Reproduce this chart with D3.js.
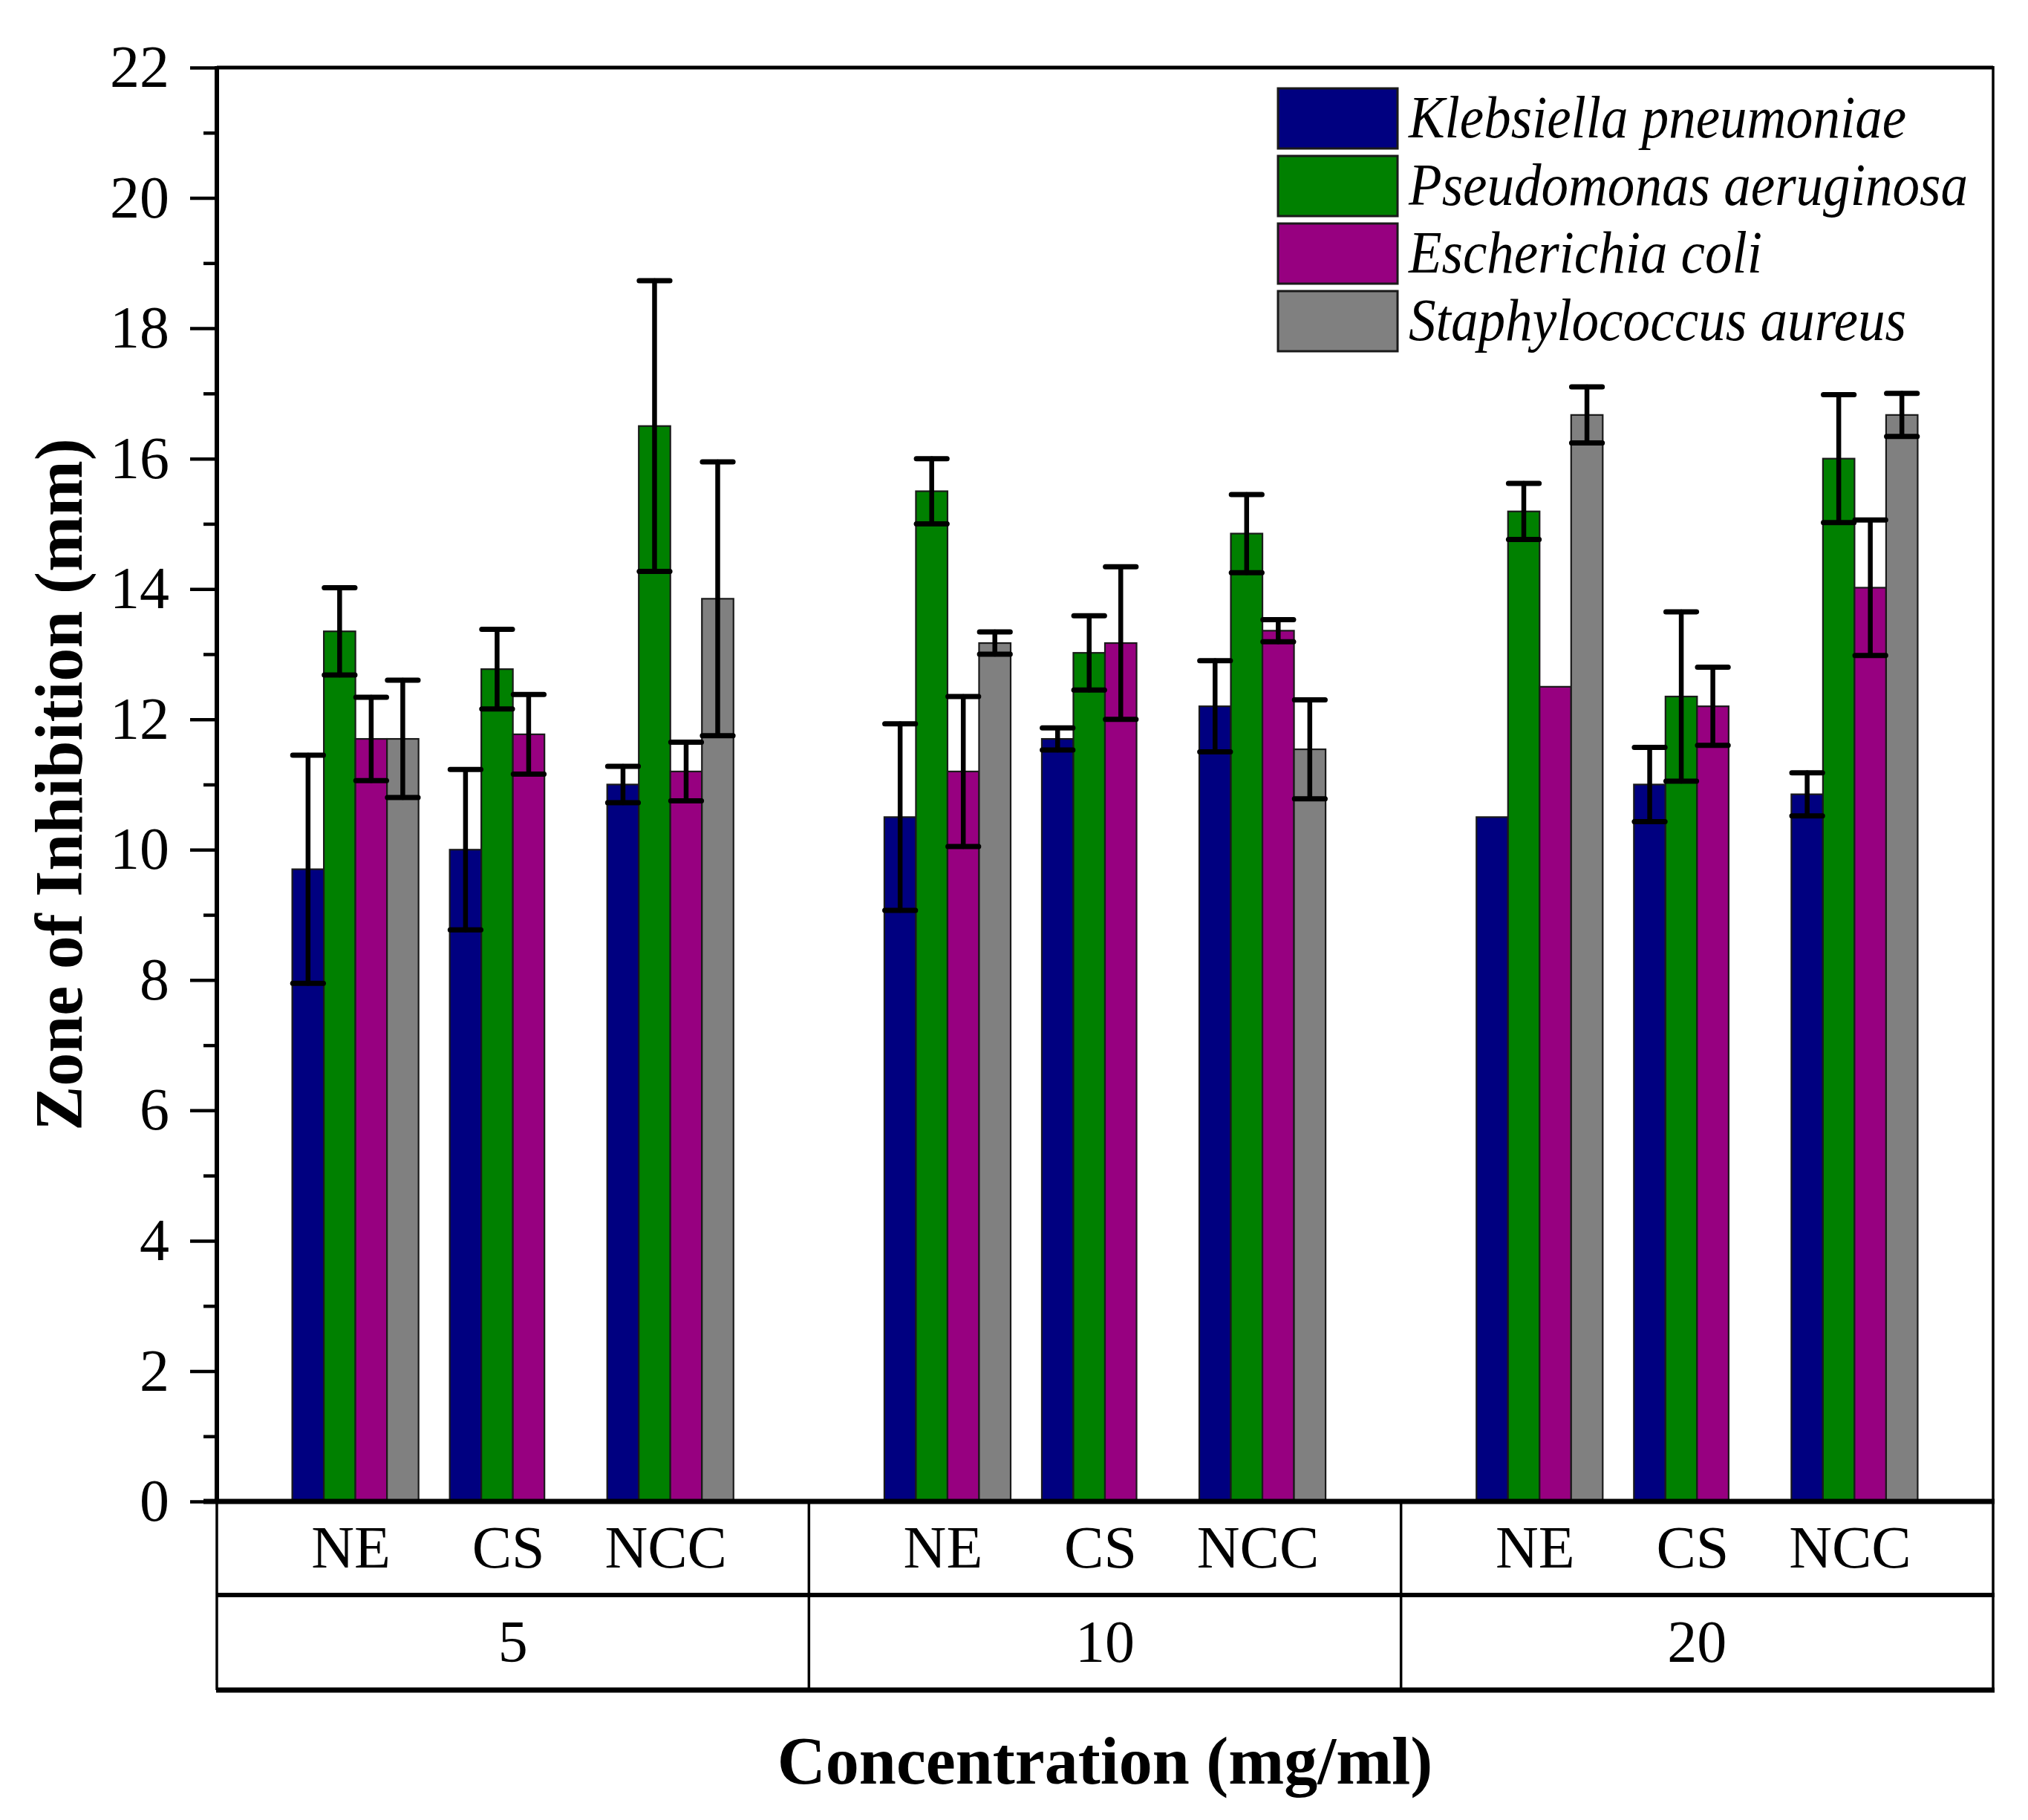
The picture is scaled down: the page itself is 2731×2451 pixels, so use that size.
<!DOCTYPE html>
<html>
<head>
<meta charset="utf-8">
<script src="https://cdn.jsdelivr.net/npm/d3@7"></script>
<style>
  body { margin: 0; background: #fff; }
  text { font-family: "Liberation Serif", "Times New Roman", serif; fill: #000; }
</style>
</head>
<body>
<div id="chart"></div>
<script>
// Categories
const concentrations = ["5", "10", "20"];
const treatments = ["NE", "CS", "NCC"];
const species = ["Klebsiella pneumoniae", "Pseudomonas aeruginosa", "Escherichia coli", "Staphylococcus aureus"];
const colors = ["#000080", "#008000", "#970080", "#808080"];

// Values, in order 5-NE, 5-CS, 5-NCC, 10-NE, 10-CS, 10-NCC, 20-NE, 20-CS, 20-NCC
const kpMean = [9.7, 10.0, 11.0, 10.5, 11.7, 12.2, 10.5, 11.0, 10.85];
const kpErr  = [1.75, 1.23, 0.28, 1.43, 0.17, 0.7, 0, 0.57, 0.33];
const paMean = [13.35, 12.77, 16.5, 15.5, 13.02, 14.85, 15.19, 12.35, 16.0];
const paErr  = [0.67, 0.61, 2.23, 0.5, 0.57, 0.6, 0.43, 1.3, 0.98];
const ecMean = [11.7, 11.77, 11.2, 11.2, 13.17, 13.36, 12.5, 12.2, 14.02];
const ecErr  = [0.64, 0.61, 0.45, 1.15, 1.17, 0.17, 0, 0.6, 1.04];
const saMean = [11.7, null, 13.85, 13.17, null, 11.54, 16.67, null, 16.67];
const saErr  = [0.9, null, 2.1, 0.17, null, 0.76, 0.43, null, 0.33];

// Y axis ticks
const majorTicks = [0, 2, 4, 6, 8, 10, 12, 14, 16, 18, 20, 22];
const minorTicks = [1, 3, 5, 7, 9, 11, 13, 15, 17, 19, 21];

// legend text widths (the original uses a narrow italic face)
const legendWidths = [670, 753, 476, 670];

const means = [kpMean, paMean, ecMean, saMean];
const errs = [kpErr, paErr, ecErr, saErr];

// Build flat records
const records = [];
concentrations.forEach((c, ci) => {
  treatments.forEach((t, ti) => {
    species.forEach((s, si) => {
      const k = ci * treatments.length + ti;
      if (means[si][k] == null) return;
      records.push({ conc: c, treat: t, sp: s, si: si, v: means[si][k], e: errs[si][k] });
    });
  });
});

// Layout
const W = 2731, H = 2451;
const plot = { left: 292, right: 2684, top: 91, bottom: 2022 };
const row1 = 2148, row2 = 2276;

const svg = d3.select("#chart").append("svg")
    .attr("width", W)
    .attr("height", H)
    .attr("viewBox", `0 0 ${W} ${H}`);

// Scales
const yScale = d3.scaleLinear().domain([0, 22]).range([plot.bottom, plot.top]);
const xGroup = d3.scaleBand().domain(concentrations).range([plot.left, plot.right]).padding(0);
const xTreat = d3.scaleBand().domain(treatments).range([0, xGroup.bandwidth()])
    .paddingInner(0.198).paddingOuter(0.479);
const xSpecies = d3.scaleBand().domain(species).range([0, xTreat.bandwidth()]).padding(0);

const barX = d => xGroup(d.conc) + xTreat(d.treat) + xSpecies(d.sp);

// Bars
svg.append("g").selectAll("rect")
  .data(records)
  .join("rect")
    .attr("x", barX)
    .attr("y", d => yScale(d.v))
    .attr("width", xSpecies.bandwidth())
    .attr("height", d => yScale(0) - yScale(d.v))
    .attr("fill", d => colors[d.si])
    .attr("stroke", "#1a1a1a")
    .attr("stroke-width", 2.2);

// Error bars
const capW = xSpecies.bandwidth() * 0.97;
const eb = svg.append("g").attr("stroke", "#000").attr("stroke-linecap", "round")
  .selectAll("g")
  .data(records.filter(d => d.e > 0))
  .join("g")
    .attr("transform", d => `translate(${barX(d) + xSpecies.bandwidth() / 2},0)`);

eb.append("line")
    .attr("y1", d => yScale(d.v + d.e))
    .attr("y2", d => yScale(d.v - d.e))
    .attr("stroke-width", 6.5);
eb.append("line")
    .attr("x1", -capW / 2).attr("x2", capW / 2)
    .attr("y1", d => yScale(d.v + d.e)).attr("y2", d => yScale(d.v + d.e))
    .attr("stroke-width", 7);
eb.append("line")
    .attr("x1", -capW / 2).attr("x2", capW / 2)
    .attr("y1", d => yScale(d.v - d.e)).attr("y2", d => yScale(d.v - d.e))
    .attr("stroke-width", 7);

// Y axis: major and minor ticks
const yAxis = svg.append("g")
    .attr("transform", `translate(${plot.left},0)`)
    .call(d3.axisLeft(yScale).tickValues(majorTicks).tickSize(36).tickPadding(28).tickFormat(d3.format("d")));
yAxis.select(".domain").remove();
yAxis.selectAll(".tick line").attr("stroke", "#000").attr("stroke-width", 4.5);
yAxis.selectAll(".tick text")
    .style("font-family", "'Liberation Serif', serif")
    .style("font-size", "80px");

const yMinor = svg.append("g")
    .attr("transform", `translate(${plot.left},0)`)
    .call(d3.axisLeft(yScale).tickValues(minorTicks).tickSize(18).tickFormat(""));
yMinor.select(".domain").remove();
yMinor.selectAll(".tick line").attr("stroke", "#000").attr("stroke-width", 4.5);

// Frame
const frame = svg.append("g").attr("stroke", "#000").attr("fill", "none");
frame.append("line").attr("x1", plot.left).attr("x2", plot.right)
    .attr("y1", plot.top).attr("y2", plot.top).attr("stroke-width", 5);
frame.append("line").attr("x1", plot.left).attr("x2", plot.left)
    .attr("y1", plot.top - 2).attr("y2", plot.bottom).attr("stroke-width", 6);
frame.append("line").attr("x1", plot.right).attr("x2", plot.right)
    .attr("y1", plot.top - 2).attr("y2", row2).attr("stroke-width", 3.5);
frame.append("line").attr("x1", plot.left).attr("x2", plot.left)
    .attr("y1", plot.bottom).attr("y2", row2).attr("stroke-width", 3.5);
frame.append("line").attr("x1", plot.left - 18).attr("x2", plot.right + 2)
    .attr("y1", plot.bottom).attr("y2", plot.bottom).attr("stroke-width", 7);
frame.append("line").attr("x1", plot.left).attr("x2", plot.right + 2)
    .attr("y1", row1).attr("y2", row1).attr("stroke-width", 6);
frame.append("line").attr("x1", plot.left - 1).attr("x2", plot.right + 2)
    .attr("y1", row2).attr("y2", row2).attr("stroke-width", 7);

// Group dividers in the category table
frame.selectAll(".divider")
  .data(concentrations.slice(1))
  .join("line")
    .attr("x1", d => xGroup(d)).attr("x2", d => xGroup(d))
    .attr("y1", plot.bottom).attr("y2", row2)
    .attr("stroke-width", 3.5);

// Treatment labels (row 1)
const labelSize = 80;
const treatLabels = [];
concentrations.forEach(c => treatments.forEach(t => treatLabels.push({ conc: c, treat: t })));
svg.append("g").selectAll("text")
  .data(treatLabels)
  .join("text")
    .attr("x", d => xGroup(d.conc) + xTreat(d.treat) + xTreat.bandwidth() / 2 - 6)
    .attr("y", (plot.bottom + row1) / 2 + labelSize * 0.33)
    .attr("text-anchor", "middle")
    .style("font-size", labelSize + "px")
    .text(d => d.treat);

// Concentration labels (row 2)
svg.append("g").selectAll("text")
  .data(concentrations)
  .join("text")
    .attr("x", d => xGroup(d) + xGroup.bandwidth() / 2)
    .attr("y", (row1 + row2) / 2 + labelSize * 0.33)
    .attr("text-anchor", "middle")
    .style("font-size", labelSize + "px")
    .text(d => d);

// Axis titles
svg.append("text")
    .attr("x", (plot.left + plot.right) / 2)
    .attr("y", 2402)
    .attr("text-anchor", "middle")
    .style("font-size", "90px")
    .style("font-weight", "bold")
    .text("Concentration (mg/ml)");

svg.append("text")
    .attr("transform", `translate(110,${(plot.top + plot.bottom) / 2}) rotate(-90)`)
    .attr("text-anchor", "middle")
    .style("font-size", "90px")
    .style("font-weight", "bold")
    .text("Zone of Inhibition (mm)");

// Legend
const legend = svg.append("g").attr("transform", "translate(1721,119)");
const legendRow = legend.selectAll("g")
  .data(species)
  .join("g")
    .attr("transform", (d, i) => `translate(0,${i * 91})`);
legendRow.append("rect")
    .attr("width", 161)
    .attr("height", 81)
    .attr("fill", (d, i) => colors[i])
    .attr("stroke", "#1a1a1a")
    .attr("stroke-width", 3);
legendRow.append("text")
    .attr("x", 176)
    .attr("y", 40 + 0.33 * 80)
    .attr("textLength", (d, i) => legendWidths[i])
    .attr("lengthAdjust", "spacingAndGlyphs")
    .style("font-size", "80px")
    .style("font-style", "italic")
    .text(d => d);
</script>
</body>
</html>
